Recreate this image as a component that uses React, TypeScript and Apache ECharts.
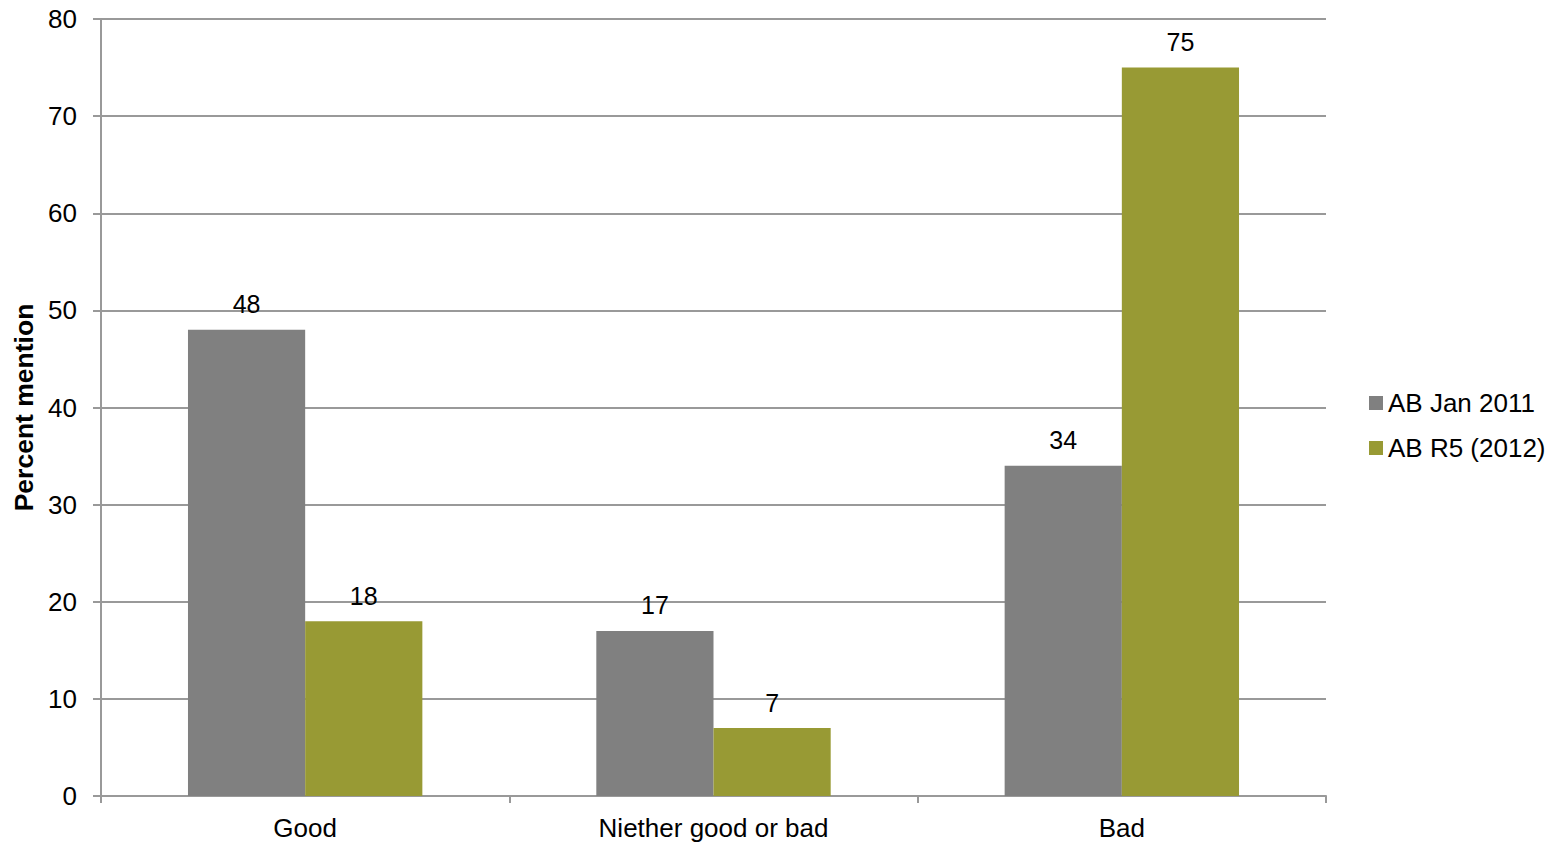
import React, { useEffect, useRef } from "react";
import * as echarts from "echarts";

const categories = ["Good", "Niether good or bad", "Bad"];
const seriesNames = ["AB Jan 2011", "AB R5 (2012)"];
const jan2011 = [48, 17, 34];
const r5_2012 = [18, 7, 75];
const colors = ["#808080", "#989A34"];

export default function App() {
  const ref = useRef<HTMLDivElement>(null);
  useEffect(() => {
    if (!ref.current) return;
    const chart = echarts.init(ref.current, undefined, { renderer: "svg" });
    const font = "'Liberation Sans', Arial, sans-serif";
    const label = {
      show: true,
      position: "top" as const,
      distance: 13,
      color: "#000",
      fontSize: 25,
      fontFamily: font,
    };
    chart.setOption({
      animation: false,
      textStyle: { fontFamily: font },
      grid: { left: 101, right: 229, top: 19, bottom: 46, outerBoundsMode: "none", containLabel: false },
      legend: {
        orient: "vertical",
        left: 1364,
        top: 385,
        itemWidth: 14,
        itemHeight: 14,
        itemGap: 19,
        icon: "rect",
        textStyle: { fontSize: 26, color: "#000", fontFamily: font, padding: [0, 0, 0, 0] },
        data: seriesNames,
      },
      xAxis: {
        type: "category",
        data: categories,
        axisLine: { lineStyle: { color: "#999", width: 2 } },
        axisTick: { show: true, length: 7, lineStyle: { color: "#999", width: 2 } },
        axisLabel: { color: "#000", fontSize: 26, margin: 19, fontFamily: font },
      },
      yAxis: {
        type: "value",
        min: 0,
        max: 80,
        interval: 10,
        name: "Percent mention",
        nameLocation: "middle",
        nameGap: 64,
        nameTextStyle: { fontSize: 26.5, fontWeight: "bold", color: "#000", fontFamily: font },
        axisLine: { show: true, lineStyle: { color: "#999", width: 2 } },
        axisTick: { show: true, length: 8, lineStyle: { color: "#999", width: 2 } },
        axisLabel: { color: "#000", fontSize: 26, margin: 24, fontFamily: font },
        splitLine: { lineStyle: { color: "#999", width: 2 } },
      },
      series: [
        {
          name: seriesNames[0],
          type: "bar",
          data: jan2011,
          itemStyle: { color: colors[0] },
          barGap: "0%",
          barCategoryGap: "42.6%",
          label,
        },
        {
          name: seriesNames[1],
          type: "bar",
          data: r5_2012,
          itemStyle: { color: colors[1] },
          barGap: "0%",
          barCategoryGap: "42.6%",
          label,
        },
      ],
    });
    return () => chart.dispose();
  }, []);
  return (
    <div
      ref={ref}
      style={{ position: "fixed", left: 0, top: 0, width: 1555, height: 842, background: "#fff" }}
    />
  );
}
